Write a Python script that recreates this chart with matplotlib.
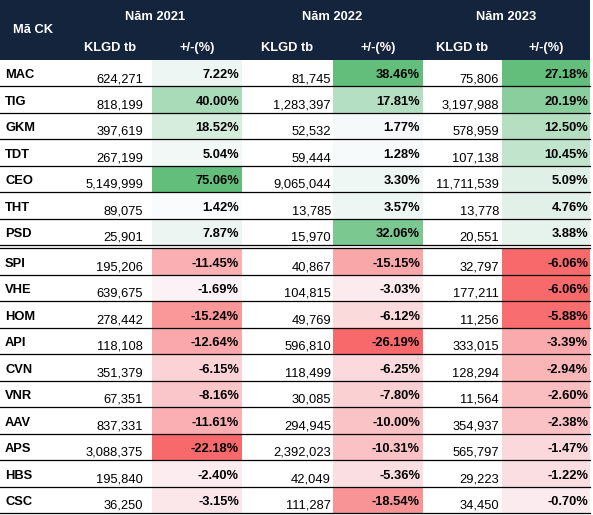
import matplotlib
matplotlib.use("Agg")
import matplotlib.pyplot as plt
from matplotlib.patches import Rectangle
import numpy as np

codes = ["MAC", "TIG", "GKM", "TDT", "CEO", "THT", "PSD", "SPI", "VHE", "HOM",
         "API", "CVN", "VNR", "AAV", "APS", "HBS", "CSC"]
klgd_2021 = [624271, 818199, 397619, 267199, 5149999, 89075, 25901, 195206, 639675,
             278442, 118108, 351379, 67351, 837331, 3088375, 195840, 36250]
pct_2021 = [7.22, 40.00, 18.52, 5.04, 75.06, 1.42, 7.87, -11.45, -1.69, -15.24,
            -12.64, -6.15, -8.16, -11.61, -22.18, -2.40, -3.15]
klgd_2022 = [81745, 1283397, 52532, 59444, 9065044, 13785, 15970, 40867, 104815,
             49769, 596810, 118499, 30085, 294945, 2392023, 42049, 111287]
pct_2022 = [38.46, 17.81, 1.77, 1.28, 3.30, 3.57, 32.06, -15.15, -3.03, -6.12,
            -26.19, -6.25, -7.80, -10.00, -10.31, -5.36, -18.54]
klgd_2023 = [75806, 3197988, 578959, 107138, 11711539, 13778, 20551, 32797, 177211,
             11256, 333015, 128294, 11564, 354937, 565797, 29223, 34450]
pct_2023 = [27.18, 20.19, 12.50, 10.45, 5.09, 4.76, 3.88, -6.06, -6.06, -5.88,
            -3.39, -2.94, -2.60, -2.38, -1.47, -1.22, -0.70]
years = ["Năm 2021", "Năm 2022", "Năm 2023"]
sub_headers = ["KLGD tb", "+/-(%)"]
first_header = "Mã CK"

W, H = 593, 515
fig = plt.figure(figsize=(W / 100, H / 100), dpi=100)
ax = fig.add_axes([0, 0, 1, 1])
ax.set_xlim(0, W)
ax.set_ylim(H, 0)
ax.axis("off")

plt.rcParams["font.family"] = ["Liberation Sans", "DejaVu Sans"]
FS = 9.3

col_edges = [0, 68, 152, 242, 333, 423, 502, 590]
header_h = 60
n = len(codes)
n_pos = 7          # rows before the double separator
gap = 3.0          # extra space taken by the double line
row_h = (513 - header_h - gap) / n
header_color = "#15243D"

RED = np.array([0xF8, 0x69, 0x6B]) / 255
WHITE = np.array([0xFC, 0xFC, 0xFF]) / 255
GREEN = np.array([0x63, 0xBE, 0x7B]) / 255


def scale_color(v, vmin, vmax):
    if v >= 0:
        t = v / vmax
        return WHITE + (GREEN - WHITE) * t
    t = v / vmin
    return WHITE + (RED - WHITE) * t


def row_top(r):
    return header_h + r * row_h + (gap if r >= n_pos else 0)


# header background
ax.add_patch(Rectangle((0, 0), col_edges[-1], header_h, color=header_color, lw=0))
ax.text(13, header_h / 2, first_header, color="white", fontsize=FS, fontweight="bold",
        ha="left", va="center")
for i, y in enumerate(years):
    x0 = col_edges[1 + 2 * i]
    x1 = col_edges[3 + 2 * i]
    ax.text((x0 + x1) / 2, 17, y, color="white", fontsize=FS, fontweight="bold",
            ha="center", va="center")
    for j, sh in enumerate(sub_headers):
        c0 = col_edges[1 + 2 * i + j]
        c1 = col_edges[2 + 2 * i + j]
        ax.text((c0 + c1) / 2, 48, sh, color="white", fontsize=FS, fontweight="bold",
                ha="center", va="center")

klgds = [klgd_2021, klgd_2022, klgd_2023]
pcts = [pct_2021, pct_2022, pct_2023]
klgd_right = [143, 331, 499]
pct_right = [239, 420, 588]

for k in range(3):
    vals = pcts[k]
    vmin, vmax = min(vals), max(vals)
    c0 = col_edges[2 + 2 * k]
    c1 = col_edges[3 + 2 * k]
    for r, v in enumerate(vals):
        top = row_top(r)
        ax.add_patch(Rectangle((c0, top), c1 - c0, row_h,
                               color=scale_color(v, vmin, vmax), lw=0))
        ax.text(pct_right[k], top + 18.5, f"{v:.2f}%", fontsize=FS, fontweight="bold",
                ha="right", va="baseline", color="black")
    for r, v in enumerate(klgds[k]):
        top = row_top(r)
        ax.text(klgd_right[k], top + 22, f"{v:,}", fontsize=FS,
                ha="right", va="baseline", color="black")

for r, c in enumerate(codes):
    top = row_top(r)
    ax.text(5, top + 18.5, c, fontsize=FS, fontweight="bold", ha="left",
            va="baseline", color="black")

# row separators
for r in range(n):
    y = row_top(r) + row_h
    ax.plot([0, col_edges[-1]], [y, y], color="black", lw=0.9)
    if r == n_pos - 1:
        ax.plot([0, col_edges[-1]], [y + gap, y + gap], color="black", lw=0.9)

fig.savefig("out.png", dpi=100, facecolor="white")
